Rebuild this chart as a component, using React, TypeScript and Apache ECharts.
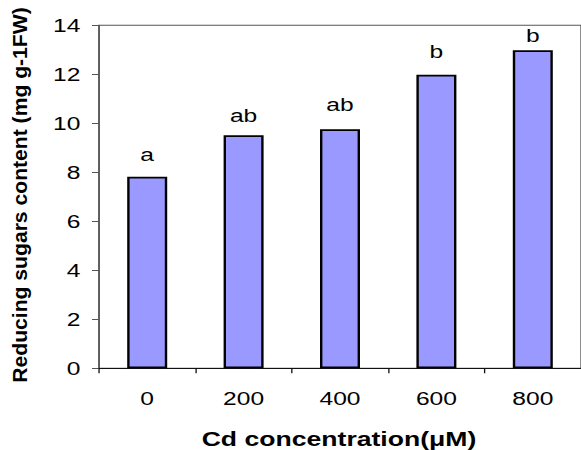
import React, { useEffect, useRef } from "react";
import * as echarts from "echarts";

const categories = ["0", "200", "400", "600", "800"];
const values = [7.82, 9.51, 9.76, 11.98, 12.98];
const letters = ["a", "ab", "ab", "b", "b"];
const labelGaps = [13, 10, 15, 13.5, 5];
const yTicks = { min: 0, max: 14, interval: 2 };

const S = 581 / 437;
const FONT = "'Liberation Sans', Arial, sans-serif";

export default function App() {
  const ref = useRef<HTMLDivElement>(null);
  useEffect(() => {
    document.body.style.margin = "0";
    const chart = echarts.init(ref.current!, undefined, { renderer: "svg" });
    chart.setOption({
      animation: false,
      grid: {
        left: 99 / S,
        top: 25.3,
        width: (97.5 * 5) / S,
        height: 343,
        show: true,
        borderColor: "#555",
        borderWidth: 1,
      },
      xAxis: {
        type: "category",
        data: categories,
        boundaryGap: true,
        axisLine: { lineStyle: { color: "#111", width: 1.2 } },
        axisTick: { show: true, length: 5, interval: 0, lineStyle: { color: "#111" } },
        axisLabel: { color: "#000", fontSize: 18.5, fontFamily: FONT, margin: 21, interval: 0 },
      },
      yAxis: {
        type: "value",
        min: yTicks.min,
        max: yTicks.max,
        interval: yTicks.interval,
        splitLine: { show: false },
        axisLine: { show: true, lineStyle: { color: "#555", width: 1.2 } },
        axisTick: { show: true, length: 7 / S, lineStyle: { color: "#555" } },
        axisLabel: { color: "#000", fontSize: 18.5, fontFamily: FONT, margin: 14 },
      },
      series: [
        {
          type: "bar",
          barWidth: 40 / S,
          data: values.map((v, i) => ({
            value: v,
            label: { distance: labelGaps[i] },
          })),
          itemStyle: { color: "#9999ff", borderColor: "#000", borderWidth: 1.8 },
          label: {
            show: true,
            position: "top",
            color: "#000",
            fontSize: 18.5,
            fontFamily: FONT,
            formatter: (p: any) => letters[p.dataIndex],
          },
        },
      ],
      graphic: [
        {
          type: "text",
          x: 19.8 / S,
          y: 195,
          rotation: Math.PI / 2,
          scaleX: 1.32,
          scaleY: 0.92,
          style: {
            text: "Reducing sugars content (mg g-1FW)",
            font: `bold 16px ${FONT}`,
            fill: "#000",
            align: "center",
            verticalAlign: "middle",
          },
        },
        {
          type: "text",
          x: 339 / S,
          y: 439.5,
          style: {
            text: "Cd concentration(μM)",
            font: `bold 20px ${FONT}`,
            fill: "#000",
            align: "center",
            verticalAlign: "middle",
          },
        },
      ],
    });
    return () => chart.dispose();
  }, []);
  return (
    <div
      ref={ref}
      style={{
        width: 437,
        height: 450,
        transform: `scaleX(${S})`,
        transformOrigin: "0 0",
      }}
    />
  );
}
